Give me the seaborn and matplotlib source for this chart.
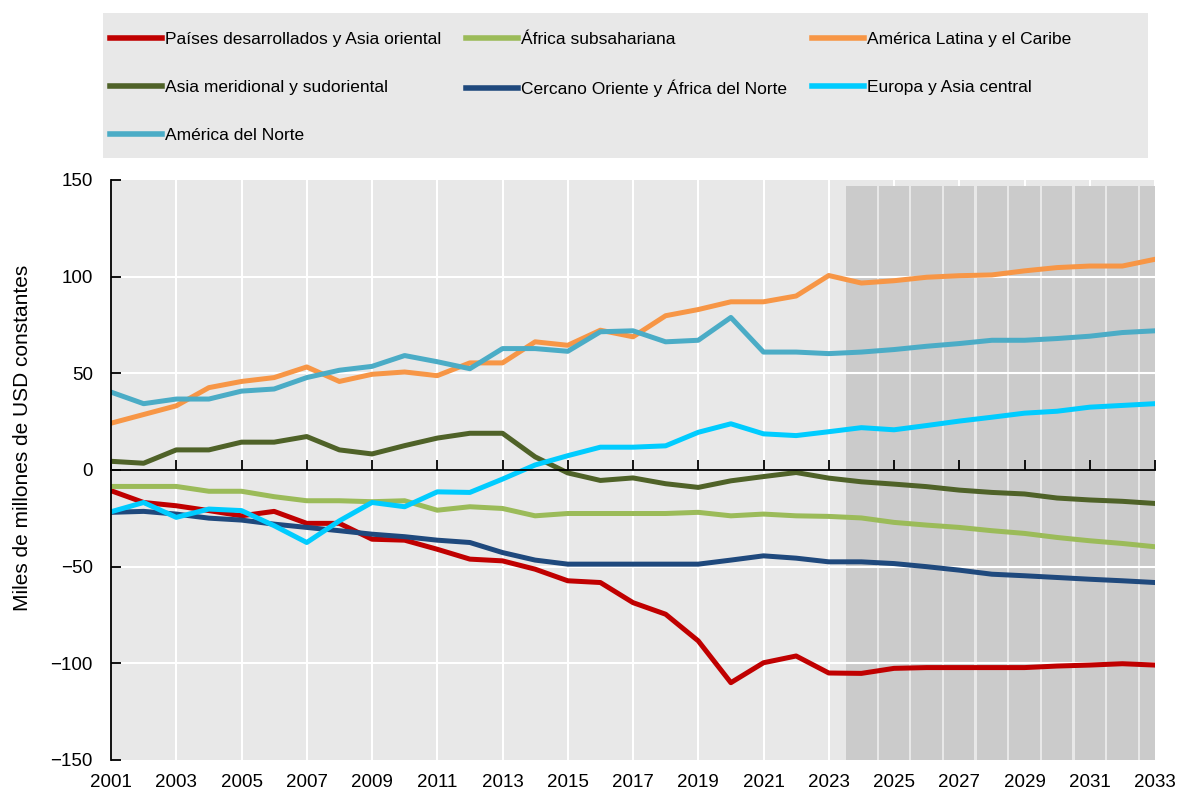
#!/usr/bin/env python3

# Libraries
import seaborn as sns
import pandas as pd
from matplotlib import pyplot as plt
from matplotlib.patches import Rectangle
import numpy as np

# Data
years = list(range(2001, 2034))
forecast_years = list(range(2024, 2034))

desarrollados = [-10.7, -16.8, -18.5, -21.0, -23.7, -21.4, -27.6, -27.6, -35.8, -36.3, -41.0,
                 -46.1, -47.0, -51.3, -57.3, -58.2, -68.6, -74.6, -88.4, -110.0, -99.7, -96.2,
                 -105.0, -105.2, -102.6, -102.2, -102.2, -102.2, -102.2, -101.4, -100.9, -100.2, -100.9]
africa_sub = [-8.5, -8.5, -8.5, -11.0, -11.0, -13.8, -15.9, -15.9, -16.4, -15.9, -20.8,
              -19.0, -19.9, -23.7, -22.5, -22.5, -22.5, -22.5, -21.9, -23.7, -22.8, -23.7,
              -24.0, -24.8, -27.1, -28.5, -29.7, -31.4, -32.8, -34.9, -36.6, -38.0, -39.7]
america_latina = [24.2, 28.7, 33.2, 42.6, 45.8, 47.8, 53.3, 45.8, 49.5, 50.7, 48.8,
                  55.4, 55.4, 66.3, 64.5, 72.3, 68.9, 79.8, 83.0, 87.0, 87.0, 90.0,
                  100.6, 96.7, 97.9, 99.7, 100.5, 100.9, 103.0, 104.7, 105.5, 105.5, 109.0]
asia_meridional = [4.5, 3.5, 10.4, 10.4, 14.4, 14.4, 17.3, 10.4, 8.3, 12.6, 16.5,
                   19.0, 19.0, 6.8, -1.5, -5.4, -4.1, -7.1, -9.0, -5.6, -3.4, -1.3,
                   -4.2, -6.1, -7.3, -8.6, -10.4, -11.6, -12.4, -14.5, -15.5, -16.2, -17.3]
cercano_oriente = [-21.9, -21.4, -22.8, -24.9, -25.9, -28.0, -29.7, -31.4, -33.2, -34.5, -36.3,
                   -37.5, -42.7, -46.6, -48.7, -48.7, -48.7, -48.7, -48.7, -46.6, -44.4, -45.6,
                   -47.5, -47.5, -48.4, -50.0, -51.8, -53.9, -54.7, -55.6, -56.5, -57.3, -58.2]
europa_asia = [-21.6, -16.8, -24.5, -20.2, -21.0, -28.8, -37.5, -26.3, -16.8, -19.0, -11.3,
               -11.6, -4.7, 2.6, 7.4, 11.8, 11.8, 12.5, 19.5, 23.9, 18.7, 17.8,
               19.8, 21.9, 20.8, 23.0, 25.3, 27.3, 29.4, 30.4, 32.5, 33.4, 34.3]
america_norte = [40.3, 34.3, 36.7, 36.7, 40.8, 41.9, 47.8, 51.6, 53.6, 59.2, 56.0,
                 52.4, 62.8, 62.8, 61.4, 71.5, 72.0, 66.3, 67.1, 78.9, 61.0, 61.0,
                 60.2, 61.0, 62.3, 64.0, 65.4, 67.1, 67.1, 68.0, 69.2, 71.1, 72.0]

series_names = ['Países desarrollados y Asia oriental', 'África subsahariana',
                'América Latina y el Caribe', 'Asia meridional y sudoriental',
                'Cercano Oriente y África del Norte', 'Europa y Asia central',
                'América del Norte']
series_values = [desarrollados, africa_sub, america_latina, asia_meridional,
                 cercano_oriente, europa_asia, america_norte]
colors = ['#c00000', '#9bbb59', '#f79646', '#4f6228', '#1f497d', '#00ccff', '#4bacc6']

y_ticks = [-150, -100, -50, 0, 50, 100, 150]
x_ticks = list(range(2001, 2034, 2))
ylabel = 'Miles de millones de USD constantes'


def plot_chart():
    df = pd.DataFrame({'year': np.tile(years, len(series_names)),
                       'value': np.concatenate(series_values),
                       'region': np.repeat(series_names, len(years))})

    plt.rcParams['font.family'] = ['Liberation Sans', 'DejaVu Sans']
    fig = plt.figure(figsize=(11.79, 7.91), dpi=100)
    ax = fig.add_axes([111 / 1179, 1 - 760 / 791, 1044 / 1179, 580 / 791])
    ax.set_facecolor('#e8e8e8')

    # grid and projection shading
    for x in x_ticks:
        ax.axvline(x, color='white', lw=1.5, zorder=0.5)
    ax.bar(forecast_years, [297] * len(forecast_years), bottom=-150, width=0.93,
           color='#cbcbcb', zorder=0.7)
    for y in y_ticks[1:-1]:
        if y != 0:
            ax.axhline(y, color='white', lw=1.5, zorder=0.9)

    sns.lineplot(data=df, x='year', y='value', hue='region', hue_order=series_names,
                 palette=colors, lw=3.6, ax=ax, legend=False, zorder=2)

    ax.set_xlim(2001, 2033)
    ax.set_ylim(-150, 150)
    ax.set_yticks(y_ticks)
    ax.set_xticks(x_ticks)
    for s in ['top', 'right']:
        ax.spines[s].set_visible(False)
    ax.spines['left'].set_linewidth(1.3)
    ax.spines['bottom'].set_position(('data', 0))
    ax.spines['bottom'].set_linewidth(1.3)
    ax.spines['bottom'].set_zorder(3)
    ax.tick_params(axis='y', direction='in', length=7, width=1.3, labelsize=13.5, pad=13)
    ax.tick_params(axis='x', direction='in', length=7, width=1.3, labelbottom=False)
    ax.set_xlabel('')
    ax.set_ylabel(ylabel, fontsize=15)
    ax.yaxis.set_label_coords(-0.076, 0.555)

    # year labels along the bottom edge
    sec = ax.secondary_xaxis(0)
    sec.set_xticks(x_ticks)
    sec.spines['bottom'].set_visible(False)
    sec.tick_params(length=0, labelsize=13.5, pad=10)

    # legend on a grey panel
    fig.patches.append(Rectangle((103 / 1179, 1 - 158 / 791), 1045 / 1179, 145 / 791,
                                 transform=fig.transFigure, facecolor='#e8e8e8',
                                 edgecolor='none', zorder=0))
    handles = [plt.Line2D([], [], color=c, lw=4) for c in colors]
    order = [0, 3, 6, 1, 4, 2, 5]
    fig.legend([handles[i] for i in order], [series_names[i] for i in order],
               loc='upper left', bbox_to_anchor=(110 / 1179, 1 - 32 / 791),
               ncol=3, fontsize=12.5, handlelength=3.0, handletextpad=0.15,
               columnspacing=1.45, labelspacing=1.88, borderpad=0, borderaxespad=0,
               frameon=False)

    fig.savefig('out.png', dpi=100)


if __name__ == '__main__':
    plot_chart()
